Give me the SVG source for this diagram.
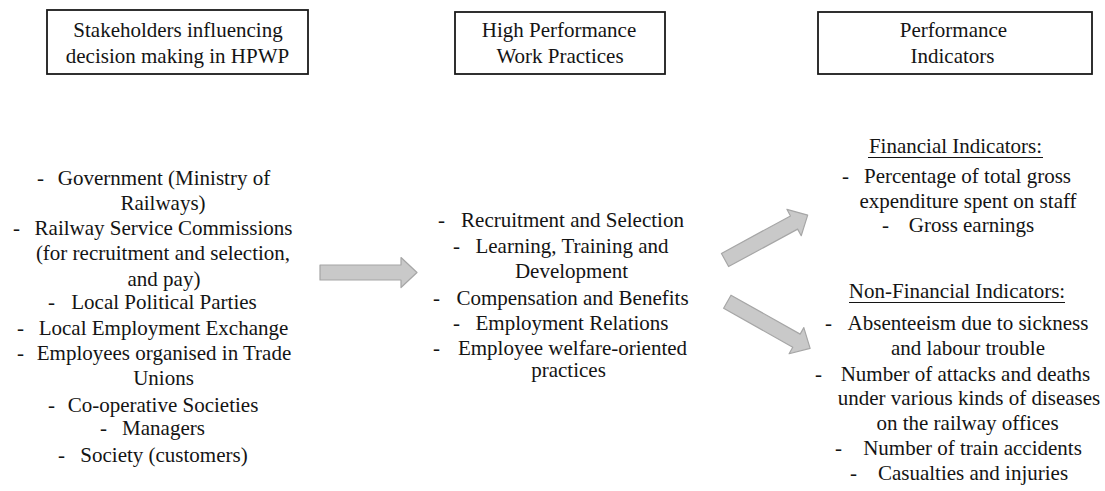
<svg xmlns="http://www.w3.org/2000/svg" width="1105" height="491" viewBox="0 0 1105 491">
<style>
.box{fill:#fff;stroke:#1a1a1a;stroke-width:1.8}
.arrow{fill:#c9c9c9;stroke:#a6a6a6;stroke-width:1.2;stroke-linejoin:round}
.ul{stroke:#141414;stroke-width:1.1}
</style>
<rect width="1105" height="491" fill="#fff"/>
<defs>
<polygon id="arr" points="0,-7.5 81,-7.5 81,-15 97,0 81,15 81,7.5 0,7.5"/>
</defs>
<g id="stakeholders-header">
<rect class="box" x="47" y="10" width="261" height="64"/>
<text font-family="Liberation Serif" font-size="21" fill="#141414" text-anchor="middle" x="178" y="37">Stakeholders influencing</text>
<text font-family="Liberation Serif" font-size="21" fill="#141414" text-anchor="middle" x="177.5" y="63">decision making in HPWP</text>
</g>
<g id="hpwp-header">
<rect class="box" x="455" y="12" width="210" height="62"/>
<text font-family="Liberation Serif" font-size="21" fill="#141414" text-anchor="middle" x="559" y="37">High Performance</text>
<text font-family="Liberation Serif" font-size="21" fill="#141414" text-anchor="middle" x="560" y="63">Work Practices</text>
</g>
<g id="indicators-header">
<rect class="box" x="818" y="12" width="274" height="62"/>
<text font-family="Liberation Serif" font-size="21" fill="#141414" text-anchor="middle" x="953.5" y="37">Performance</text>
<text font-family="Liberation Serif" font-size="21" fill="#141414" text-anchor="middle" x="952.5" y="63">Indicators</text>
</g>
<g id="stakeholders-list">
<text font-family="Liberation Serif" font-size="21" fill="#141414" x="37" y="185">-</text><text font-family="Liberation Serif" font-size="21" fill="#141414" text-anchor="middle" x="164" y="185">Government (Ministry of</text>
<text font-family="Liberation Serif" font-size="21" fill="#141414" text-anchor="middle" x="163" y="210">Railways)</text>
<text font-family="Liberation Serif" font-size="21" fill="#141414" x="13" y="235">-</text><text font-family="Liberation Serif" font-size="21" fill="#141414" text-anchor="middle" x="163.5" y="235">Railway Service Commissions</text>
<text font-family="Liberation Serif" font-size="21" fill="#141414" text-anchor="middle" x="163" y="260">(for recruitment and selection,</text>
<text font-family="Liberation Serif" font-size="21" fill="#141414" text-anchor="middle" x="164" y="286">and pay)</text>
<text font-family="Liberation Serif" font-size="21" fill="#141414" x="48" y="309">-</text><text font-family="Liberation Serif" font-size="21" fill="#141414" text-anchor="middle" x="164" y="309">Local Political Parties</text>
<text font-family="Liberation Serif" font-size="21" fill="#141414" x="17" y="335">-</text><text font-family="Liberation Serif" font-size="21" fill="#141414" text-anchor="middle" x="163.5" y="335">Local Employment Exchange</text>
<text font-family="Liberation Serif" font-size="21" fill="#141414" x="17" y="360">-</text><text font-family="Liberation Serif" font-size="21" fill="#141414" text-anchor="middle" x="164" y="360">Employees organised in Trade</text>
<text font-family="Liberation Serif" font-size="21" fill="#141414" text-anchor="middle" x="163.5" y="385">Unions</text>
<text font-family="Liberation Serif" font-size="21" fill="#141414" x="48" y="412">-</text><text font-family="Liberation Serif" font-size="21" fill="#141414" text-anchor="middle" x="163" y="412">Co-operative Societies</text>
<text font-family="Liberation Serif" font-size="21" fill="#141414" x="100" y="435">-</text><text font-family="Liberation Serif" font-size="21" fill="#141414" text-anchor="middle" x="163.5" y="435">Managers</text>
<text font-family="Liberation Serif" font-size="21" fill="#141414" x="58" y="462">-</text><text font-family="Liberation Serif" font-size="21" fill="#141414" text-anchor="middle" x="164" y="462">Society (customers)</text>
</g>
<g id="hpwp-list">
<text font-family="Liberation Serif" font-size="21" fill="#141414" x="438" y="227">-</text><text font-family="Liberation Serif" font-size="21" fill="#141414" text-anchor="middle" x="572.5" y="227">Recruitment and Selection</text>
<text font-family="Liberation Serif" font-size="21" fill="#141414" x="453" y="253">-</text><text font-family="Liberation Serif" font-size="21" fill="#141414" text-anchor="middle" x="572" y="253">Learning, Training and</text>
<text font-family="Liberation Serif" font-size="21" fill="#141414" text-anchor="middle" x="571.5" y="278">Development</text>
<text font-family="Liberation Serif" font-size="21" fill="#141414" x="433" y="305">-</text><text font-family="Liberation Serif" font-size="21" fill="#141414" text-anchor="middle" x="572.5" y="305">Compensation and Benefits</text>
<text font-family="Liberation Serif" font-size="21" fill="#141414" x="453" y="330">-</text><text font-family="Liberation Serif" font-size="21" fill="#141414" text-anchor="middle" x="572" y="330">Employment Relations</text>
<text font-family="Liberation Serif" font-size="21" fill="#141414" x="433" y="355">-</text><text font-family="Liberation Serif" font-size="21" fill="#141414" text-anchor="middle" x="572.5" y="355">Employee welfare-oriented</text>
<text font-family="Liberation Serif" font-size="21" fill="#141414" text-anchor="middle" x="568.5" y="377">practices</text>
</g>
<g id="financial-indicators">
<text font-family="Liberation Serif" font-size="21" fill="#141414" text-anchor="middle" x="955.5" y="153">Financial Indicators:</text>
<line class="ul" x1="868" y1="157.5" x2="1043" y2="157.5"/>
<text font-family="Liberation Serif" font-size="21" fill="#141414" x="842" y="183">-</text><text font-family="Liberation Serif" font-size="21" fill="#141414" text-anchor="middle" x="967.5" y="183">Percentage of total gross</text>
<text font-family="Liberation Serif" font-size="21" fill="#141414" text-anchor="middle" x="968" y="208">expenditure spent on staff</text>
<text font-family="Liberation Serif" font-size="21" fill="#141414" x="882" y="232">-</text><text font-family="Liberation Serif" font-size="21" fill="#141414" text-anchor="middle" x="971.5" y="232">Gross earnings</text>
</g>
<g id="non-financial-indicators">
<text font-family="Liberation Serif" font-size="21" fill="#141414" text-anchor="middle" x="957" y="298">Non-Financial Indicators:</text>
<line class="ul" x1="849" y1="302.5" x2="1065" y2="302.5"/>
<text font-family="Liberation Serif" font-size="21" fill="#141414" x="825" y="330">-</text><text font-family="Liberation Serif" font-size="21" fill="#141414" text-anchor="middle" x="968" y="330">Absenteeism due to sickness</text>
<text font-family="Liberation Serif" font-size="21" fill="#141414" text-anchor="middle" x="968" y="355">and labour trouble</text>
<text font-family="Liberation Serif" font-size="21" fill="#141414" x="815" y="381">-</text><text font-family="Liberation Serif" font-size="21" fill="#141414" text-anchor="middle" x="965.5" y="381">Number of attacks and deaths</text>
<text font-family="Liberation Serif" font-size="21" fill="#141414" text-anchor="middle" x="969" y="405">under various kinds of diseases</text>
<text font-family="Liberation Serif" font-size="21" fill="#141414" text-anchor="middle" x="967.5" y="430">on the railway offices</text>
<text font-family="Liberation Serif" font-size="21" fill="#141414" x="835" y="455">-</text><text font-family="Liberation Serif" font-size="21" fill="#141414" text-anchor="middle" x="972.5" y="455">Number of train accidents</text>
<text font-family="Liberation Serif" font-size="21" fill="#141414" x="850" y="480">-</text><text font-family="Liberation Serif" font-size="21" fill="#141414" text-anchor="middle" x="973" y="480">Casualties and injuries</text>
</g>
<g id="connectors">
<use href="#arr" class="arrow" transform="translate(320,272.5)"/>
<use href="#arr" class="arrow" transform="translate(725,260) rotate(-28.5) scale(0.97,1)"/>
<use href="#arr" class="arrow" transform="translate(727.3,301.7) rotate(29.4) scale(0.98,1)"/>
</g>
</svg>
